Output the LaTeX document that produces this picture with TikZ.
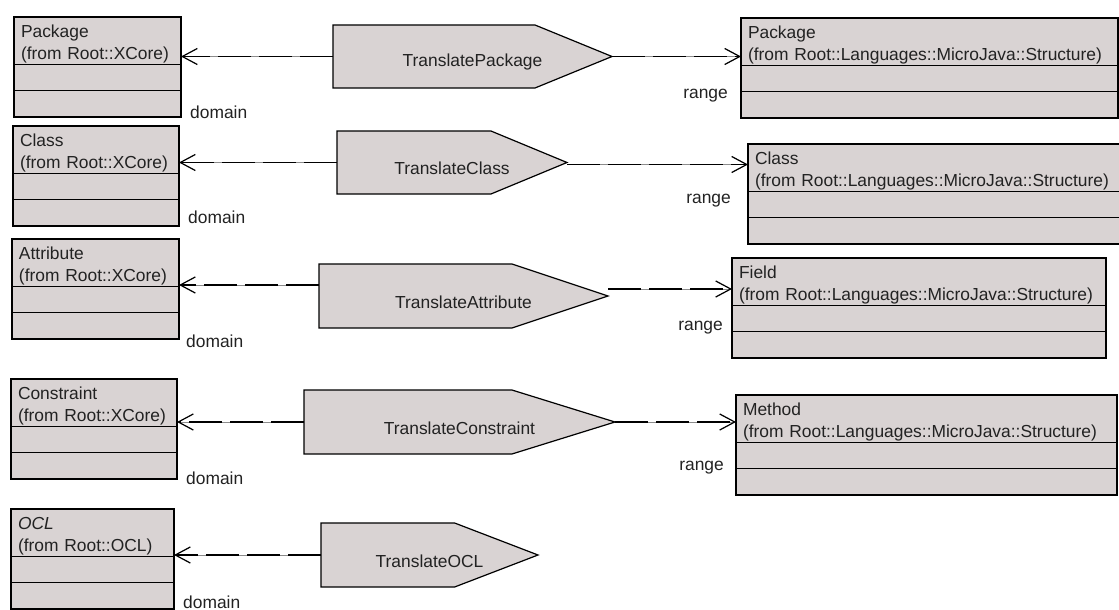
\documentclass[tikz,border=0pt]{standalone}
\usepackage{fontspec}
\setmainfont{Liberation Sans}
\usetikzlibrary{arrows.meta,calc,positioning,shapes.multipart,shapes.symbols}
\definecolor{umlfill}{HTML}{D9D3D3}
\definecolor{umltext}{HTML}{222222}
\newcommand{\clshead}[2]{\rule{0pt}{19.7pt}#1\\#2\rule[-4.7pt]{0pt}{0pt}}

\begin{document}
\begin{tikzpicture}[x=1pt,y=-1pt,
  font=\fontsize{17.4}{21.7}\selectfont,
  cls/.style={rectangle split,rectangle split parts=3,draw=black,fill=umlfill,line width=1.3pt,
    text=umltext,align=left,anchor=north west,inner ysep=0pt,inner xsep=7pt,outer sep=0pt,
    rectangle split empty part height=25pt,rectangle split empty part depth=0pt,text width=#1},
  trans/.style={signal,signal to=east,draw=black,fill=umlfill,line width=1.2pt,anchor=west,
    minimum height=63pt,inner sep=0pt,outer sep=0pt},
  trlab/.style={text=umltext,yshift=-6pt},
  dep/.style={line width=1.2pt,dash pattern=on 33pt off 8pt,preaction={draw=black!45,solid},
    -{Straight Barb[length=15pt,width=16pt]}},
  role/.style={text=umltext,inner sep=0pt}]
\useasboundingbox (0,0) rectangle (1119,610);
% source classes
\node[cls=153pt] (srcPkg) at (14,17) {\clshead{Package}{(from Root::XCore)}};
\node[cls=152pt] (srcCls) at (13,126) {\clshead{Class}{(from Root::XCore)}};
\node[cls=153pt] (srcAtt) at (12,239) {\clshead{Attribute}{(from Root::XCore)}};
\node[cls=152pt] (srcCon) at (11,379) {\clshead{Constraint}{(from Root::XCore)}};
\node[cls=149pt] (srcOcl) at (11,509) {\clshead{\textit{OCL}}{(from Root::OCL)}};
% target classes
\node[cls=363pt] (tgtPkg) at (741,18) {\clshead{Package}{(from Root::Languages::MicroJava::Structure)}};
\node[cls=358pt] (tgtCls) at (748,144) {\clshead{Class}{(from Root::Languages::MicroJava::Structure)}};
\node[cls=360pt] (tgtFld) at (732,258) {\clshead{Field}{(from Root::Languages::MicroJava::Structure)}};
\node[cls=367pt] (tgtMth) at (736,395) {\clshead{Method}{(from Root::Languages::MicroJava::Structure)}};
% translations
\node[trans,minimum width=279pt,signal pointer angle=44.5] (trPkg) at (333,56.5) {};
\node[trans,minimum width=230pt,signal pointer angle=45] (trCls) at (337,162.5) {};
\node[trans,minimum width=289pt,minimum height=64pt,signal pointer angle=36.9] (trAtt) at (319,296) {};
\node[trans,minimum width=311pt,minimum height=64pt,signal pointer angle=34.5] (trCon) at (304,422) {};
\node[trans,minimum width=217pt,minimum height=64pt,signal pointer angle=42] (trOcl) at (321,555) {};
\node[trlab] (lbPkg) at ($(trPkg.west)!0.5!(trPkg.east)$) {TranslatePackage};
\node[trlab] (lbCls) at ($(trCls.west)!0.5!(trCls.east)$) {TranslateClass};
\node[trlab] (lbAtt) at ($(trAtt.west)!0.5!(trAtt.east)$) {TranslateAttribute};
\node[trlab] (lbCon) at ($(trCon.west)!0.5!(trCon.east)$) {TranslateConstraint};
\node[trlab] (lbOcl) at ($(trOcl.west)!0.5!(trOcl.east)$) {TranslateOCL};
% domain dependencies
\draw[dep] (trPkg.west) -- (trPkg.west -| srcPkg.east);
\draw[dep] (trCls.west) -- (trCls.west -| srcCls.east);
\draw[dep] ([yshift=11pt]trAtt.west) -- ([yshift=11pt]trAtt.west -| srcAtt.east);
\draw[dep] (trCon.west) -- (trCon.west -| srcCon.east);
\draw[dep] (trOcl.west) -- (trOcl.west -| srcOcl.east);
% range dependencies
\draw[dep] (trPkg.east) -- (trPkg.east -| tgtPkg.west);
\draw[dep] ([yshift=-2pt]trCls.east) -- ([yshift=-2pt]trCls.east -| tgtCls.west);
\draw[dep] ([yshift=7pt]trAtt.east) -- ([yshift=7pt]trAtt.east -| tgtFld.west);
\draw[dep] (trCon.east) -- (trCon.east -| tgtMth.west);
% role names
\node[role,anchor=base west] (domPkg) at ([shift={(9pt,-1pt)}]srcPkg.south east) {domain};
\node[role,anchor=base west] (domCls) at ([shift={(9pt,3pt)}]srcCls.south east) {domain};
\node[role,anchor=base west] (domAtt) at ([shift={(7pt,-8pt)}]srcAtt.south east) {domain};
\node[role,anchor=base west] (domCon) at ([shift={(9pt,-5pt)}]srcCon.south east) {domain};
\node[role,anchor=base west] (domOcl) at ([shift={(9pt,1pt)}]srcOcl.south east) {domain};
\node[role,anchor=base east] (rngPkg) at ([shift={(-13pt,-81pt)}]tgtPkg.north west) {range};
\node[role,anchor=base east] (rngCls) at ([shift={(-17pt,-59pt)}]tgtCls.north west) {range};
\node[role,anchor=base east] (rngFld) at ([shift={(-9pt,-72pt)}]tgtFld.north west) {range};
\node[role,anchor=base east] (rngMth) at ([shift={(-12pt,-75pt)}]tgtMth.north west) {range};
\end{tikzpicture}
\end{document}
